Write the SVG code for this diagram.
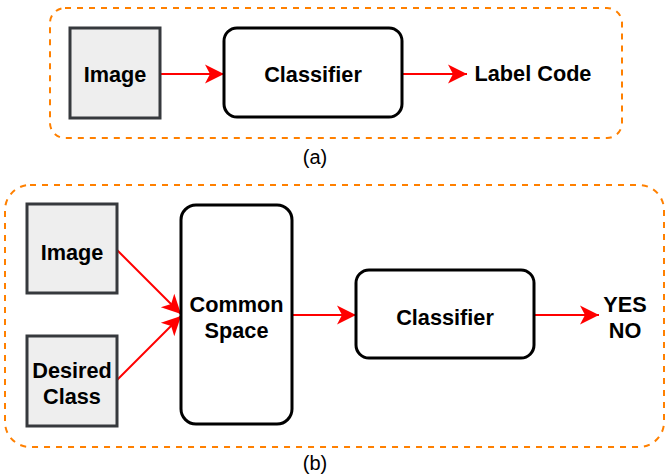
<svg xmlns="http://www.w3.org/2000/svg" width="665" height="476" viewBox="0 0 665 476">
<defs>
<style>
.panel{fill:none;stroke:#ff8000;stroke-width:2;stroke-dasharray:6 6}
.input{fill:#eeeeee;stroke:#36393d;stroke-width:3}
.proc{fill:#ffffff;stroke:#000000;stroke-width:3}
.t{font-family:"Liberation Sans",Arial,Helvetica,sans-serif;font-weight:bold;font-size:21.7px;fill:#000;text-anchor:middle}
.cap{font-family:"Liberation Sans",Arial,Helvetica,sans-serif;font-size:20px;fill:#000;text-anchor:middle}
.edge{fill:none;stroke:#ff0000;stroke-width:2;marker-end:url(#arr)}
</style>
<marker id="arr" viewBox="-20 -10 20 20" markerWidth="20" markerHeight="20" refX="0" refY="0" orient="auto" markerUnits="userSpaceOnUse">
<path d="M0,0 L-19,-9.5 L-14,0 L-19,9.5 Z" fill="#ff0000"/>
</marker>
</defs>
<rect width="665" height="476" fill="#ffffff"/>
<g id="panel-a">
<rect class="panel" x="50" y="8" width="572" height="130" rx="15" ry="15"/>
<text class="cap" x="315" y="164">(a)</text>
</g>
<g id="panel-b">
<rect class="panel" x="5" y="185" width="659" height="262" rx="25" ry="25"/>
<text class="cap" x="315" y="470">(b)</text>
</g>
<g id="connectors">
<path class="edge" d="M161,74 L224,74"/>
<path class="edge" d="M402,74 L467,74"/>
<path class="edge" d="M117,250 L181,314"/>
<path class="edge" d="M117,380 L181,316"/>
<path class="edge" d="M292,315 L356,315"/>
<path class="edge" d="M534,315 L599,315"/>
</g>
<g id="a-image">
<rect class="input" x="70" y="28" width="90" height="90"/>
<text class="t" x="115" y="82">Image</text>
</g>
<g id="a-classifier">
<rect class="proc" x="224" y="28" width="178" height="89" rx="13" ry="13"/>
<text class="t" x="313" y="82">Classifier</text>
</g>
<g id="a-label-code">
<text class="t" x="533" y="81">Label Code</text>
</g>
<g id="b-image">
<rect class="input" x="27" y="204" width="90" height="89"/>
<text class="t" x="72" y="260">Image</text>
</g>
<g id="b-desired-class">
<rect class="input" x="27" y="336" width="90" height="90"/>
<text class="t" x="72" y="378">Desired</text>
<text class="t" x="72" y="404">Class</text>
</g>
<g id="b-common-space">
<rect class="proc" x="181" y="205" width="111" height="219" rx="15" ry="15"/>
<text class="t" x="236.5" y="312">Common</text>
<text class="t" x="236.5" y="338">Space</text>
</g>
<g id="b-classifier">
<rect class="proc" x="356" y="270" width="178" height="88" rx="13" ry="13"/>
<text class="t" x="445" y="325">Classifier</text>
</g>
<g id="b-yes-no">
<text class="t" x="625" y="312">YES</text>
<text class="t" x="625" y="338">NO</text>
</g>
</svg>
